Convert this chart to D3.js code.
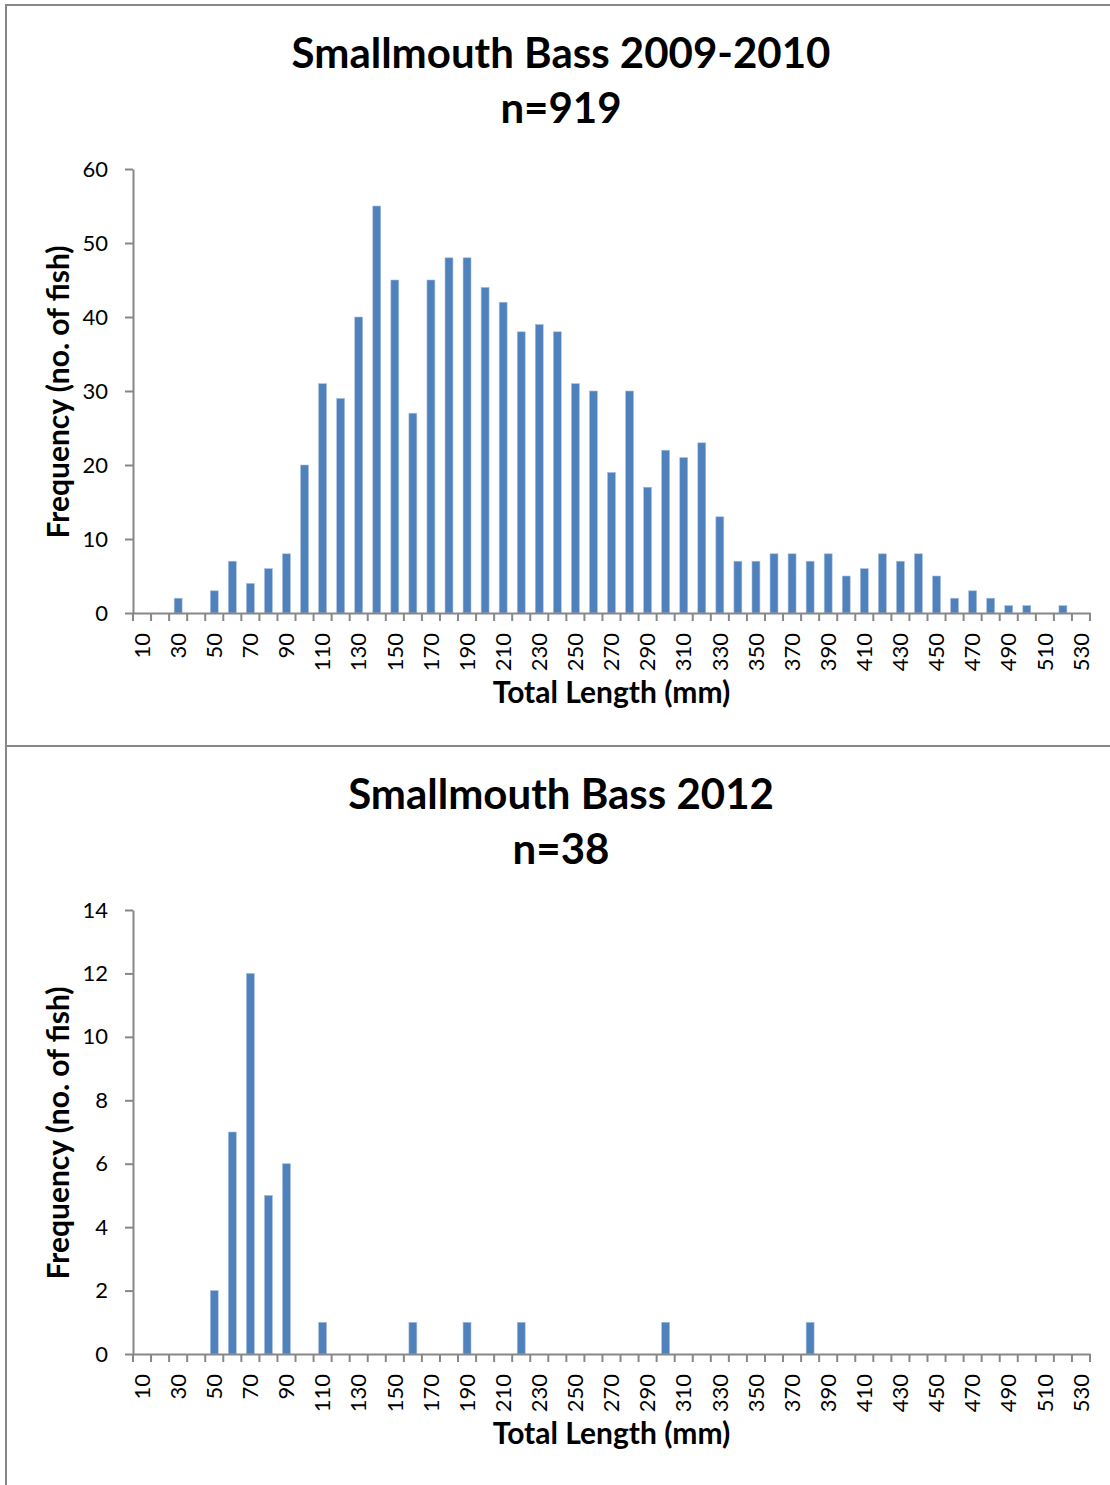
<!DOCTYPE html>
<html>
<head>
<meta charset="utf-8">
<script src="https://cdn.jsdelivr.net/npm/d3@7"></script>
<style>
  body { margin: 0; background: #fff; }
  svg text { font-family: Lato, "Open Sans", sans-serif; fill: #000; }
</style>
</head>
<body>
<div id="chart"></div>
<script>
// length classes (mm)
const lengthBins = [10, 20, 30, 40, 50, 60, 70, 80, 90, 100, 110, 120, 130, 140, 150, 160, 170, 180, 190, 200,
    210, 220, 230, 240, 250, 260, 270, 280, 290, 300, 310, 320, 330, 340, 350, 360, 370, 380, 390, 400,
    410, 420, 430, 440, 450, 460, 470, 480, 490, 500, 510, 520, 530];

// number of fish per class, 2009-2010 (n=919)
const counts2010 = [0, 0, 2, 0, 3, 7, 4, 6, 8, 20, 31, 29, 40, 55, 45, 27, 45, 48, 48, 44,
    42, 38, 39, 38, 31, 30, 19, 30, 17, 22, 21, 23, 13, 7, 7, 8, 8, 7, 8, 5,
    6, 8, 7, 8, 5, 2, 3, 2, 1, 1, 0, 1, 0];

// number of fish per class, 2012 (n=38)
const counts2012 = [0, 0, 0, 0, 2, 7, 12, 5, 6, 0, 1, 0, 0, 0, 0, 1, 0, 0, 1, 0,
    0, 1, 0, 0, 0, 0, 0, 0, 0, 1, 0, 0, 0, 0, 0, 0, 0, 1, 0, 0,
    0, 0, 0, 0, 0, 0, 0, 0, 0, 0, 0, 0, 0];

const yTicks2010 = [0, 10, 20, 30, 40, 50, 60];
const yTicks2012 = [0, 2, 4, 6, 8, 10, 12, 14];

const titles = ["Smallmouth Bass 2009-2010", "Smallmouth Bass 2012"];
const nLabels = ["n=919", "n=38"];

const width = 1110;
const height = 1485;
const panelHeight = 741;
const axisColor = "#878787";
const barColor = "#4f81bd";

const svg = d3.select("#chart").append("svg")
    .attr("width", width)
    .attr("height", height);

const margin = { left: 133, right: 1090, top: 164, bottom: 608 };

const xScale = d3.scaleBand()
    .domain(lengthBins)
    .range([margin.left, margin.right])
    .paddingInner(0.56)
    .paddingOuter(0.28);

function drawPanel(g, title, nLabel, counts, yTicks) {

    // frame
    g.append("rect")
        .attr("x", 6)
        .attr("y", 0)
        .attr("width", 1112)
        .attr("height", panelHeight)
        .attr("fill", "none")
        .attr("stroke", axisColor)
        .attr("stroke-width", 2);

    g.append("text")
        .attr("x", 561)
        .attr("y", 63)
        .attr("text-anchor", "middle")
        .style("font-size", "42px")
        .style("font-weight", "bold")
        .text(title);

    g.append("text")
        .attr("x", 561)
        .attr("y", 118)
        .attr("text-anchor", "middle")
        .style("font-size", "42px")
        .style("font-weight", "bold")
        .text(nLabel);

    const yScale = d3.scaleLinear()
        .domain([0, d3.max(yTicks)])
        .range([margin.bottom, margin.top]);

    // bars
    g.selectAll(".bar")
        .data(lengthBins.map((d, i) => ({ bin: d, count: counts[i] })).filter(d => d.count > 0))
        .enter()
        .append("rect")
        .attr("class", "bar")
        .attr("x", d => xScale(d.bin))
        .attr("y", d => yScale(d.count))
        .attr("width", xScale.bandwidth())
        .attr("height", d => yScale(0) - yScale(d.count))
        .attr("fill", barColor)
        .attr("stroke", "#a9c1e0")
        .attr("stroke-width", 0.6);

    // y axis
    const yAxis = d3.axisLeft(yScale)
        .tickValues(yTicks)
        .tickSizeInner(8)
        .tickSizeOuter(0)
        .tickPadding(17);

    const yG = g.append("g")
        .attr("transform", `translate(${margin.left}, 0)`)
        .call(yAxis);
    yG.select(".domain").attr("stroke", axisColor).attr("stroke-width", 2);
    yG.selectAll(".tick line").attr("stroke", axisColor).attr("stroke-width", 2);
    yG.selectAll(".tick text")
        .style("font-size", "22px")
        .style("font-family", "Lato, sans-serif")
        .attr("fill", "#000");

    // x axis: labels on every other class, ticks on class boundaries
    const xAxis = d3.axisBottom(xScale)
        .tickSize(0)
        .tickPadding(0)
        .tickFormat((d, i) => i % 2 === 0 ? d : "");

    const xG = g.append("g")
        .attr("transform", `translate(0, ${margin.bottom})`)
        .call(xAxis);
    xG.select(".domain").attr("stroke", axisColor).attr("stroke-width", 2);
    xG.selectAll(".tick text")
        .attr("transform", "rotate(-90)")
        .attr("text-anchor", "end")
        .attr("x", -20)
        .attr("y", 0)
        .attr("dy", "0.35em")
        .style("font-size", "22px")
        .style("font-family", "Lato, sans-serif")
        .attr("fill", "#000");

    const bounds = d3.range(lengthBins.length + 1).map(i => margin.left + i * (margin.right - margin.left) / lengthBins.length);
    xG.selectAll(".bound")
        .data(bounds)
        .enter()
        .append("line")
        .attr("class", "bound")
        .attr("x1", d => d)
        .attr("x2", d => d)
        .attr("y1", 0)
        .attr("y2", 8)
        .attr("stroke", axisColor)
        .attr("stroke-width", 2);

    // axis titles
    g.append("text")
        .attr("x", (margin.left + margin.right) / 2)
        .attr("y", 698)
        .attr("text-anchor", "middle")
        .style("font-size", "30px")
        .style("font-weight", "bold")
        .text("Total Length (mm)");

    g.append("text")
        .attr("transform", `translate(69, 387) rotate(-90)`)
        .attr("text-anchor", "middle")
        .style("font-size", "30px")
        .style("font-weight", "bold")
        .text("Frequency (no. of fish)");
}

const topPanel = svg.append("g").attr("transform", "translate(0, 5)");
drawPanel(topPanel, titles[0], nLabels[0], counts2010, yTicks2010);

const bottomPanel = svg.append("g").attr("transform", `translate(0, ${5 + panelHeight})`);
drawPanel(bottomPanel, titles[1], nLabels[1], counts2012, yTicks2012);
</script>
</body>
</html>
